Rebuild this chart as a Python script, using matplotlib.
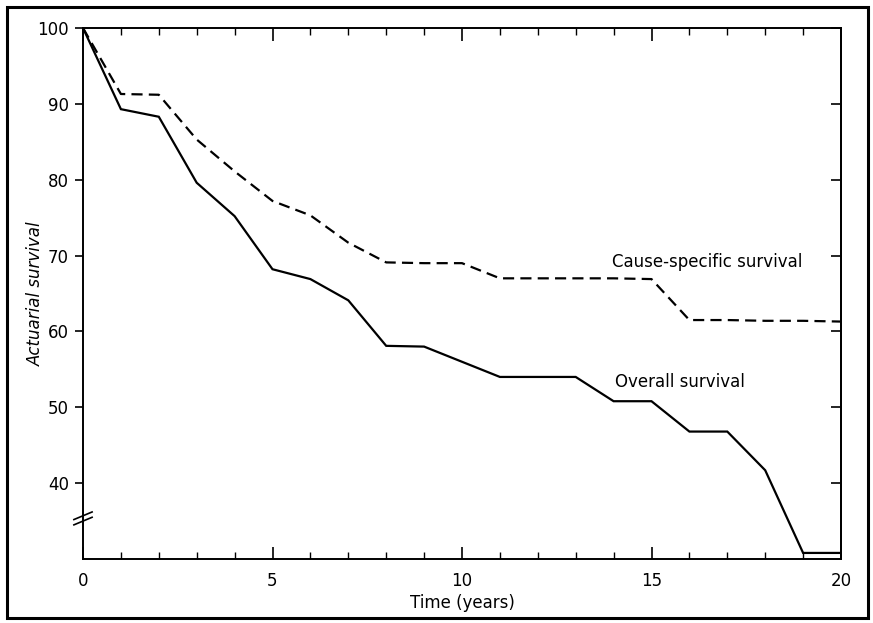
import matplotlib
matplotlib.use("Agg")
import matplotlib.pyplot as plt
from matplotlib.patches import Rectangle
from matplotlib.ticker import MultipleLocator

years = list(range(0, 21))
overall = [100, 89.3, 88.3, 79.6, 75.2, 68.2, 66.9, 64.1, 58.1, 58.0, 56.0,
           54.0, 54.0, 54.0, 50.8, 50.8, 46.8, 46.8, 41.7, 30.8, 30.8]
cause_specific = [100, 91.3, 91.2, 85.3, 81.1, 77.2, 75.3, 71.7, 69.1, 69.0, 69.0,
                  67.0, 67.0, 67.0, 67.0, 66.9, 61.5, 61.5, 61.4, 61.4, 61.3]
y_ticks = [40, 50, 60, 70, 80, 90, 100]
x_ticks = [0, 5, 10, 15, 20]

plt.rcParams['font.family'] = ['DejaVu Sans']

fig = plt.figure(figsize=(8.73, 6.23), dpi=100)
ax = fig.add_axes([83/873, 1-559/623, (841-83)/873, (559-28)/623])

ax.plot(years, overall, color='black', lw=1.6, solid_joinstyle='miter')
ax.plot(years, cause_specific, color='black', lw=1.6, linestyle=(0, (5, 2.8)))

ax.set_xlim(0, 20)
ax.set_ylim(30, 100)

ax.set_yticks(y_ticks)
ax.set_yticklabels([str(v) for v in y_ticks], fontsize=12)
ax.set_xticks(x_ticks)
ax.set_xticklabels([str(v) for v in x_ticks], fontsize=12)
ax.xaxis.set_minor_locator(MultipleLocator(1))

ax.tick_params(axis='y', which='major', direction='out', length=6, width=1.2,
               left=True, right=False, labelleft=True, pad=4)
ax.tick_params(axis='x', which='major', direction='in', length=9, width=1.2,
               top=True, bottom=True, pad=9)
ax.tick_params(axis='x', which='minor', direction='in', length=5, width=1.0,
               top=True, bottom=True)

sec = ax.secondary_yaxis('right')
sec.set_yticks(y_ticks)
sec.tick_params(axis='y', direction='in', length=7, width=1.2, labelright=False)
sec.spines['right'].set_linewidth(1.4)

for s in ax.spines.values():
    s.set_linewidth(1.4)

ax.set_xlabel('Time (years)', fontsize=12)
ax.xaxis.set_label_coords(0.5, -0.066)
ax.set_ylabel('Actuarial survival', fontsize=12, style='italic')
ax.yaxis.set_label_coords(-0.050, 0.5)

ax.text(13.95, 69.1, 'Cause-specific survival', fontsize=12, va='center', ha='left')
ax.text(14.05, 53.3, 'Overall survival', fontsize=12, va='center', ha='left')

# axis break marks on the left spine
tr = ax.get_yaxis_transform()
dx = 0.012
for yb in (35.0, 35.7):
    ax.plot([-dx, dx], [yb - 0.5, yb + 0.5], color='black', lw=1.2,
            transform=tr, clip_on=False)

# outer figure border
fig.patches.append(Rectangle((7/873, 1-618/623), (868-7)/873, (618-7)/623,
                             transform=fig.transFigure, fill=False,
                             edgecolor='black', lw=2.2))

fig.savefig('out.png', dpi=100)
